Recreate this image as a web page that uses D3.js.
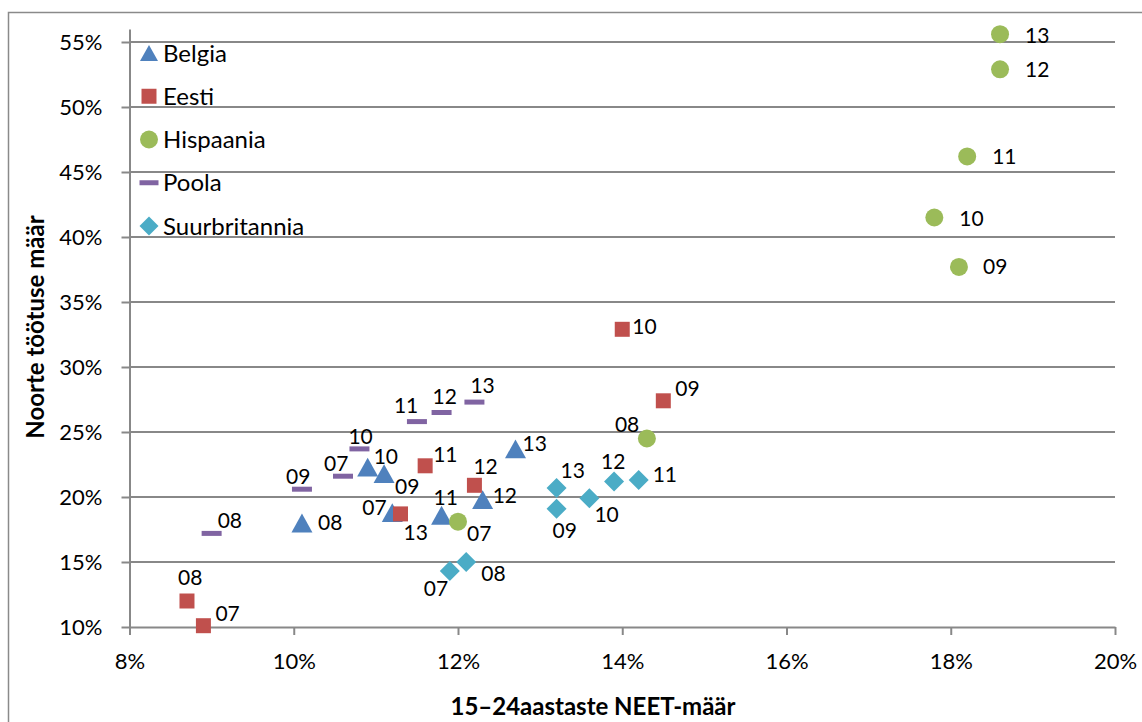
<!DOCTYPE html>
<html>
<head>
<meta charset="utf-8">
<script src="https://cdn.jsdelivr.net/npm/d3@7"></script>
<style>
  html, body { margin: 0; padding: 0; background: #fff; }
  svg { display: block; font-family: Lato, "Open Sans", sans-serif; }
</style>
</head>
<body>
<svg id="chart" width="1142" height="722"></svg>
<script>
// ---------------- DATA ----------------
const seriesNames = ["Belgia", "Eesti", "Hispaania", "Poola", "Suurbritannia"];
const seriesColors = ["#4F81BD", "#C0504D", "#9BBB59", "#8064A2", "#4BACC6"];

const belgiaYears = ["07", "08", "09", "10", "11", "12", "13"];
const belgiaNeet  = [11.2, 10.1, 11.1, 10.9, 11.8, 12.3, 12.7];
const belgiaUnemp = [18.8, 18.0, 21.8, 22.3, 18.6, 19.8, 23.7];

const eestiYears = ["07", "08", "09", "10", "11", "12", "13"];
const eestiNeet  = [8.9, 8.7, 14.5, 14.0, 11.6, 12.2, 11.3];
const eestiUnemp = [10.1, 12.0, 27.4, 32.9, 22.4, 20.9, 18.7];

const hispaaniaYears = ["07", "08", "09", "10", "11", "12", "13"];
const hispaaniaNeet  = [12.0, 14.3, 18.1, 17.8, 18.2, 18.6, 18.6];
const hispaaniaUnemp = [18.1, 24.5, 37.7, 41.5, 46.2, 52.9, 55.6];

const poolaYears = ["07", "08", "09", "10", "11", "12", "13"];
const poolaNeet  = [10.6, 9.0, 10.1, 10.8, 11.5, 11.8, 12.2];
const poolaUnemp = [21.6, 17.2, 20.6, 23.7, 25.8, 26.5, 27.3];

const suurbritanniaYears = ["07", "08", "09", "10", "11", "12", "13"];
const suurbritanniaNeet  = [11.9, 12.1, 13.2, 13.6, 14.2, 13.9, 13.2];
const suurbritanniaUnemp = [14.3, 15.0, 19.1, 19.9, 21.3, 21.2, 20.7];

const xTicks = [8, 10, 12, 14, 16, 18, 20];
const yTicks = [10, 15, 20, 25, 30, 35, 40, 45, 50, 55];
const xTitle = "15–24aastaste NEET-määr";
const yTitle = "Noorte töötuse määr";

// ---------------- LAYOUT (label placement, px offsets) ----------------
const labelOffsets = {
  Belgia:        {"07": [-30, -5], "08": [16, -1], "09": [11, 13], "10": [6, -11], "11": [-8, -18], "12": [10, -4], "13": [7, -5]},
  Eesti:         {"07": [12, -12], "08": [-9, -24], "09": [12, -12], "10": [10, -3], "11": [8, -11], "12": [-1, -19], "13": [3, 19]},
  Hispaania:     {"07": [9, 12], "08": [-32, -14], "09": [24, 0], "10": [25, 1], "11": [25, 0], "12": [25, 0], "13": [25, 1]},
  Poola:         {"07": [-19, -13], "08": [6, -13], "09": [-16, -13], "10": [-11, -12], "11": [-23, -16], "12": [-9, -16], "13": [-4, -17]},
  Suurbritannia: {"07": [-26, 17], "08": [15, 11], "09": [-4, 22], "10": [5, 16], "11": [14, -6], "12": [-13, -20], "13": [4, -17]}
};

// ---------------- BUILD ----------------
const series = [
  {name: seriesNames[0], years: belgiaYears, x: belgiaNeet, y: belgiaUnemp},
  {name: seriesNames[1], years: eestiYears, x: eestiNeet, y: eestiUnemp},
  {name: seriesNames[2], years: hispaaniaYears, x: hispaaniaNeet, y: hispaaniaUnemp},
  {name: seriesNames[3], years: poolaYears, x: poolaNeet, y: poolaUnemp},
  {name: seriesNames[4], years: suurbritanniaYears, x: suurbritanniaNeet, y: suurbritanniaUnemp}
];

// custom symbol types (size = width^2)
const symTriangle = { draw(ctx, size) { const w = Math.sqrt(size), h = w * 0.9;
  ctx.moveTo(0, -h / 2); ctx.lineTo(w / 2, h / 2); ctx.lineTo(-w / 2, h / 2); ctx.closePath(); } };
const symSquare = { draw(ctx, size) { const w = Math.sqrt(size);
  ctx.rect(-w / 2, -w / 2, w, w); } };
const symCircle = { draw(ctx, size) { const r = Math.sqrt(size) / 2;
  ctx.moveTo(r, 0); ctx.arc(0, 0, r, 0, 2 * Math.PI); } };
const symDash = { draw(ctx, size) { const w = Math.sqrt(size), h = 5;
  ctx.rect(-w / 2, -h / 2, w, h); } };
const symDiamond = { draw(ctx, size) { const r = Math.sqrt(size) / 2;
  ctx.moveTo(0, -r); ctx.lineTo(r, 0); ctx.lineTo(0, r); ctx.lineTo(-r, 0); ctx.closePath(); } };
const symbols = [symTriangle, symSquare, symCircle, symDash, symDiamond];
const symSizes = [21 * 21, 15 * 15, 18 * 18, 20 * 20, 20 * 20];
const legendSizes = [18 * 18, 15 * 15, 18 * 18, 19 * 19, 19 * 19];

const svg = d3.select("#chart");
const W = 1142, H = 722;
const gridColor = "#888888";

// outer chart border
svg.append("rect").attr("x", 8.5).attr("y", 12.5).attr("width", W).attr("height", H)
  .attr("fill", "none").attr("stroke", "#8a8a8a").attr("stroke-width", 1.5);

const x = d3.scaleLinear().domain([8, 20]).range([129.5, 1115]);
const y = d3.scaleLinear().domain([10, 56]).range([627, 29]);

// horizontal gridlines
svg.append("g").selectAll("line").data(yTicks.filter(t => t !== 10)).join("line")
  .attr("x1", x(8)).attr("x2", x(20))
  .attr("y1", d => y(d)).attr("y2", d => y(d))
  .attr("stroke", gridColor).attr("stroke-width", 2);

// y axis
const yAxis = svg.append("g").attr("transform", `translate(${x(8)},0)`)
  .call(d3.axisLeft(y).tickValues(yTicks).tickFormat(d => d + "%").tickSizeInner(8).tickSizeOuter(0).tickPadding(19));
// x axis
const xAxis = svg.append("g").attr("transform", `translate(0,${y(10)})`)
  .call(d3.axisBottom(x).tickValues(xTicks).tickFormat(d => d + "%").tickSizeInner(8).tickSizeOuter(0).tickPadding(18));
[yAxis, xAxis].forEach(g => {
  g.selectAll("path.domain").attr("stroke", gridColor).attr("stroke-width", 2);
  g.selectAll(".tick line").attr("stroke", gridColor).attr("stroke-width", 2);
  g.selectAll(".tick text").attr("fill", "#000").style("font-size", "22px").style("font-family", "Lato, sans-serif");
});

// axis titles
svg.append("text").attr("x", 593).attr("y", 706).attr("dy", "0.36em")
  .attr("text-anchor", "middle").style("font-size", "24px").style("font-weight", "bold").text(xTitle);
svg.append("text").attr("transform", "translate(35,327) rotate(-90)").attr("dy", "0.36em")
  .attr("text-anchor", "middle").style("font-size", "24px").style("font-weight", "bold").text(yTitle);

// markers
series.forEach((s, i) => {
  const pts = s.years.map((yr, j) => ({yr, vx: s.x[j], vy: s.y[j]}));
  svg.append("g").selectAll("path").data(pts).join("path")
    .attr("d", d3.symbol().type(symbols[i]).size(symSizes[i]))
    .attr("transform", d => `translate(${x(d.vx)},${y(d.vy)})`)
    .attr("fill", seriesColors[i]);
});

// data labels
series.forEach((s, i) => {
  const pts = s.years.map((yr, j) => ({yr, vx: s.x[j], vy: s.y[j]}));
  svg.append("g").selectAll("text").data(pts).join("text")
    .attr("x", d => x(d.vx) + labelOffsets[s.name][d.yr][0])
    .attr("y", d => y(d.vy) + labelOffsets[s.name][d.yr][1])
    .attr("dy", "0.36em")
    .style("font-size", "21px")
    .attr("fill", "#000")
    .text(d => d.yr);
});

// legend
const legend = svg.append("g");
seriesNames.forEach((name, i) => {
  const ly = 53 + i * 43.25;
  legend.append("path")
    .attr("d", d3.symbol().type(symbols[i]).size(legendSizes[i]))
    .attr("transform", `translate(149,${ly})`)
    .attr("fill", seriesColors[i]);
  legend.append("text").attr("x", 163).attr("y", ly).attr("dy", "0.36em")
    .style("font-size", "24px").attr("fill", "#000").text(name);
});
</script>
</body>
</html>
